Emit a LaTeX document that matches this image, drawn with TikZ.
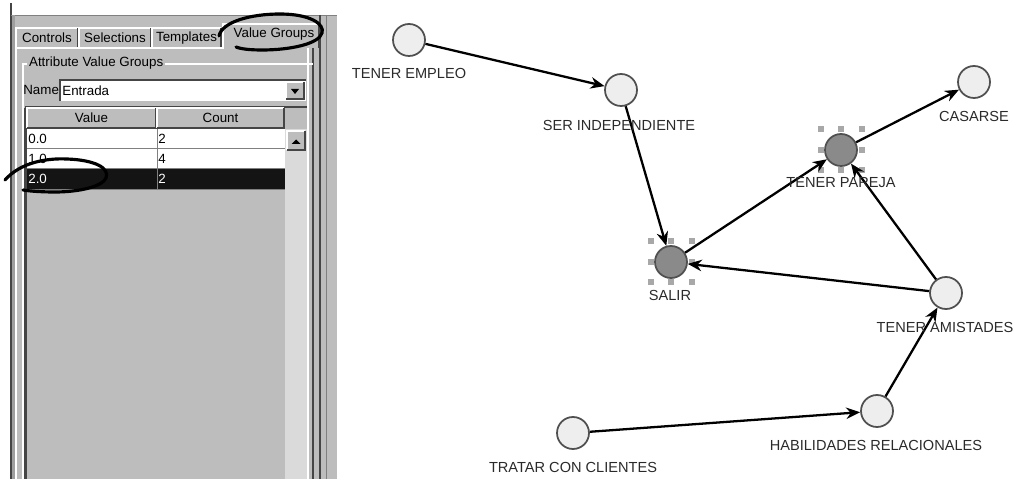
\documentclass[tikz,border=0pt]{standalone}
\usepackage{fontspec}
\setmainfont{Liberation Sans}
\usetikzlibrary{arrows.meta,positioning,calc}
\usepackage{xcolor}
\definecolor{panelgray}{HTML}{BDBDBD}
\definecolor{trackgray}{HTML}{DADADA}
\definecolor{darkline}{HTML}{454545}
\definecolor{gridgray}{HTML}{808080}
\definecolor{nodefill}{HTML}{EEEEEE}
\definecolor{selfill}{HTML}{8A8A8A}
\definecolor{nodeline}{HTML}{505050}
\definecolor{handle}{HTML}{A8A8A8}
\definecolor{lbltext}{HTML}{2A2A2A}

\begin{document}
\begin{tikzpicture}[x=0.02cm, y=-0.02cm,
    conc/.style={circle, draw=nodeline, line width=1pt, fill=nodefill, minimum size=0.64cm, inner sep=0pt},
    sel/.style={conc, fill=selfill},
    lbl/.style={font=\fontsize{8.3}{10}\selectfont, text=lbltext, inner sep=0pt},
    arr/.style={-{Stealth[length=2.8mm, width=2.3mm]}, line width=1.3pt},
    ui/.style={font=\fontsize{7.6}{9}\selectfont, inner sep=0pt},
    ink/.style={line width=1.8pt, line cap=round},
    hi/.style={white, line width=0.6pt},
    lo/.style={darkline, line width=0.6pt}
]
    \useasboundingbox (0,0) rectangle (1014,479);

    % left panel
    \fill[panelgray] (11,15) rectangle (337,479);
    \draw[darkline, line width=0.9pt] (11,3) -- (11,479);
    \draw[gridgray] (11,15) -- (337,15);
    \fill[gray!75] (12,15) rectangle (15,479);
    \draw[hi] (16,48) -- (16,479);
    \draw[lo] (24,108) -- (24,479);
    \fill[trackgray] (285,129) rectangle (307,479);
    \draw[white, line width=1pt] (308,48) -- (308,479);
    \draw[lo] (313,48) -- (313,479);
    \draw[darkline, line width=0.9pt] (320,15) -- (320,479);
    \draw[gridgray] (326,15) -- (326,479);

    % tabs
    \foreach \a/\b/\t in {16/78/Controls, 79/151/Selections, 152/221/Templates} {
        \draw[hi] (\a,48) |- (\b,28);
        \draw[lo] (\b,28) -- (\b,47);
        \node[ui] (tab\t) at ({(\a+\b)/2},38) {\t};
    }
    \draw[hi] (223,49) |- (319,24);
    \draw[lo] (319,24) -- (319,48);
    \node[ui] (tabValue) at (274,34) {Value Groups};
    \draw[hi] (16,48) -- (223,48);

    % group box
    \draw[gridgray] (22,479) |- (313,63);
    \draw[hi] (23,479) |- (313,64);
    \node[ui, fill=panelgray, inner sep=1pt, anchor=west] (grp) at (27,63) {Attribute Value Groups};

    % name row
    \node[ui, anchor=west] (name) at (23,90) {Name};
    \fill[white] (60,80) rectangle (306,101);
    \draw[lo] (60,101) |- (306,80);
    \node[ui, anchor=west] (entrada) at (62,90.5) {Entrada};
    \fill[panelgray] (286,82) rectangle (304,99);
    \draw[hi] (286,99) |- (304,82);
    \draw[lo] (286,99) -| (304,82);
    \fill[black] (291,89) -- (299,89) -- (295,94) -- cycle;

    % table
    \fill[panelgray] (27,108) rectangle (307,129);
    \draw[lo] (26,479) |- (307,107);
    \foreach \a/\b/\t in {27/156/Value, 157/284/Count} {
        \draw[hi] (\a,128) |- (\b,108);
        \draw[lo] (\a,128) -| (\b,108);
        \node[ui] (head\t) at ({(\a+\b)/2},118) {\t};
    }
    \fill[white] (27,129) rectangle (285,168);
    \fill[black!92] (27,169) rectangle (285,189);
    \draw[gridgray] (27,148.5) -- (285,148.5);
    \draw[gridgray] (27,168.5) -- (285,168.5);
    \draw[gridgray] (157,129) -- (157,189);
    \draw[gridgray] (27,189.5) -- (285,189.5);
    \node[ui, anchor=west] (v0) at (28,139) {0.0};
    \node[ui, anchor=west] (c0) at (158,139) {2};
    \node[ui, anchor=west] (v1) at (28,159) {1.0};
    \node[ui, anchor=west] (c1) at (158,159) {4};
    \node[ui, anchor=west, text=white] (v2) at (28,179) {2.0};
    \node[ui, anchor=west, text=white] (c2) at (158,179) {2};

    % scroll button
    \fill[panelgray] (287,131) rectangle (305,150);
    \draw[hi] (287,150) |- (305,131);
    \draw[lo] (287,150) -| (305,131);
    \fill[black] (291.5,144) -- (300.5,144) -- (296,139.5) -- cycle;

    % hand marks
    \draw[ink] (219,36) .. controls (222,22) and (250,14) .. (280,14)
        .. controls (310,14) and (325,24) .. (322,33)
        .. controls (319,44) and (290,50) .. (262,50)
        .. controls (250,50) and (241,49) .. (236,47);
    \draw[ink] (5,180) .. controls (20,163) and (45,158) .. (67,159)
        .. controls (95,160) and (110,168) .. (106,178)
        .. controls (102,187) and (78,192) .. (55,192)
        .. controls (40,192) and (29,191) .. (23,190);

    % graph
    \node[conc] (empleo)    at (409,40)  {};
    \node[conc] (indep)     at (621,90)  {};
    \node[conc] (casarse)   at (974,82)  {};
    \node[sel]  (pareja)    at (841,150) {};
    \node[sel]  (salir)     at (671,262) {};
    \node[conc] (amistades) at (946,293) {};
    \node[conc] (habil)     at (877,411) {};
    \node[conc] (tratar)    at (573,433) {};

    \foreach \n in {pareja, salir}
        \foreach \dx/\dy in {-1/-1,0/-1,1/-1,-1/0,1/0,-1/1,0/1,1/1}
            \fill[handle] ($(\n)+(\dx*20.5-3,\dy*20.5-3)$) rectangle ++(6,6);

    \draw[arr] (empleo) -- (indep);
    \draw[arr] (indep) -- (salir);
    \draw[arr] (salir) -- (pareja);
    \draw[arr] (pareja) -- (casarse);
    \draw[arr] (amistades) -- (salir);
    \draw[arr] (amistades) -- (pareja);
    \draw[arr] (habil) -- (amistades);
    \draw[arr] (tratar) -- (habil);

    \node[lbl] (empleo-l)    at (409,73)  {TENER EMPLEO};
    \node[lbl] (indep-l)     at (619,125) {SER INDEPENDIENTE};
    \node[lbl] (casarse-l)   at (974,116) {CASARSE};
    \node[lbl] (pareja-l)    at (841,183) {TENER PAREJA};
    \node[lbl] (salir-l)     at (670,295) {SALIR};
    \node[lbl] (amistades-l) at (945,327) {TENER AMISTADES};
    \node[lbl] (habil-l)     at (876,445) {HABILIDADES RELACIONALES};
    \node[lbl] (tratar-l)    at (573,467) {TRATAR CON CLIENTES};
\end{tikzpicture}
\end{document}
